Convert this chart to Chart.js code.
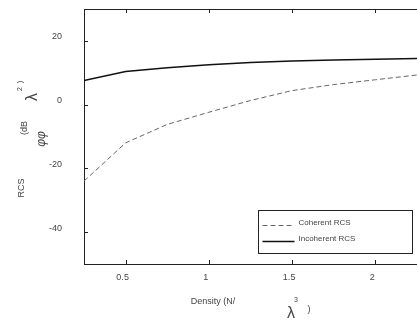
<!DOCTYPE html>
<html>
<head>
<meta charset="utf-8">
<script src="https://cdn.jsdelivr.net/npm/chart.js@4.4.1/dist/chart.umd.min.js"></script>
<style>
  html, body { margin: 0; padding: 0; background: #fff; }
  #wrap { width: 417px; height: 320px; position: relative; }
</style>
</head>
<body>
<div id="wrap"><canvas id="rcsChart"></canvas></div>
<script>
// data
const densities = [0.25, 0.5, 0.75, 1.0, 1.25, 1.5, 1.75, 2.0, 2.25];
const coherentRCS = [-24, -12, -6.2, -2.4, 1.3, 4.4, 6.3, 7.8, 9.3];
const incoherentRCS = [7.6, 10.4, 11.6, 12.5, 13.2, 13.7, 14.0, 14.2, 14.5];
const xTicks = [0.5, 1, 1.5, 2];
const yTicks = [-40, -20, 0, 20];

const FONT = '"Liberation Sans", Arial, sans-serif';
const TEXT = '#444';

const toPoints = (xs, ys) => xs.map((x, i) => ({ x: x, y: ys[i] }));

// inward ticks, frame, axis titles and legend box
const framePlugin = {
    id: 'frame',
    afterDraw(chart) {
        const ctx = chart.ctx;
        const a = chart.chartArea;
        const xs = chart.scales.x, ys = chart.scales.y;
        ctx.save();
        ctx.strokeStyle = '#222';
        ctx.lineWidth = 1;
        ctx.beginPath();
        ctx.moveTo(a.left, a.top + 0.5);
        ctx.lineTo(a.right, a.top + 0.5);
        ctx.stroke();
        ctx.beginPath();
        xTicks.forEach(v => {
            const px = Math.round(xs.getPixelForValue(v)) + 0.5;
            ctx.moveTo(px, a.bottom); ctx.lineTo(px, a.bottom - 4);
            ctx.moveTo(px, a.top); ctx.lineTo(px, a.top + 4);
        });
        yTicks.forEach(v => {
            const py = Math.round(ys.getPixelForValue(v)) + 0.5;
            ctx.moveTo(a.left, py); ctx.lineTo(a.left + 4, py);
        });
        ctx.stroke();

        // y title, pieces rotated
        ctx.fillStyle = TEXT;
        const rot = (txt, x, y, font) => {
            ctx.save();
            ctx.translate(x, y);
            ctx.rotate(-Math.PI / 2);
            ctx.font = font;
            ctx.textAlign = 'center';
            ctx.textBaseline = 'middle';
            ctx.fillText(txt, 0, 0);
            ctx.restore();
        };
        rot('RCS', 22, 188, '9px ' + FONT);
        rot('(dB', 25, 128, '9px ' + FONT);
        rot('φφ', 42, 139, 'italic 12px ' + FONT);
        rot('λ', 33, 97, '16px ' + FONT);
        rot('2', 20, 89, '7px ' + FONT);
        rot(')', 20, 82, '8px ' + FONT);

        // x title
        ctx.textAlign = 'center';
        ctx.textBaseline = 'middle';
        ctx.font = '9px ' + FONT;
        ctx.fillText('Density (N/', 213, 302);
        ctx.font = '16px ' + FONT;
        ctx.fillText('λ', 291, 314);
        ctx.font = '7px ' + FONT;
        ctx.fillText('3', 296, 300);
        ctx.font = '9px ' + FONT;
        ctx.fillText(')', 309, 310);

        // legend box
        const bx = 258.5, by = 210.5, bw = 154, bh = 43;
        ctx.strokeStyle = '#222';
        ctx.strokeRect(bx, by, bw, bh);
        chart.data.datasets.forEach((ds, i) => {
            const ly = by + 12 + i * 16;
            ctx.save();
            ctx.strokeStyle = ds.borderColor;
            ctx.lineWidth = ds.borderWidth;
            ctx.setLineDash(ds.borderDash || []);
            ctx.beginPath();
            ctx.moveTo(bx + 4, ly + 3);
            ctx.lineTo(bx + 36, ly + 3);
            ctx.stroke();
            ctx.restore();
            ctx.fillStyle = TEXT;
            ctx.font = '8px ' + FONT;
            ctx.textAlign = 'left';
            ctx.fillText(ds.label, bx + 40, ly);
        });
        ctx.restore();
    }
};

new Chart(document.getElementById('rcsChart'), {
    type: 'line',
    data: {
        datasets: [
            {
                label: 'Coherent RCS',
                data: toPoints(densities, coherentRCS),
                borderColor: '#666',
                borderWidth: 1,
                borderDash: [5, 3],
                pointRadius: 0,
                tension: 0
            },
            {
                label: 'Incoherent RCS',
                data: toPoints(densities, incoherentRCS),
                borderColor: '#111',
                borderWidth: 1.5,
                pointRadius: 0,
                tension: 0
            }
        ]
    },
    options: {
        responsive: true,
        maintainAspectRatio: false,
        animation: false,
        layout: { padding: { top: 9, right: 0, left: 0, bottom: 0 } },
        plugins: {
            legend: { display: false },
            tooltip: { enabled: false }
        },
        scales: {
            x: {
                type: 'linear',
                min: 0.25,
                max: 2.25,
                afterBuildTicks: (s) => { s.ticks = xTicks.map(v => ({ value: v })); },
                afterFit: (s) => { s.height = 56; s.paddingLeft = 0; s.paddingRight = 0; },
                grid: { display: false },
                border: { display: true, color: '#222', width: 1 },
                ticks: {
                    color: TEXT,
                    font: { family: FONT, size: 9 },
                    padding: 0,
                    labelOffset: -3,
                    maxRotation: 0,
                    callback: (v) => String(v)
                }
            },
            y: {
                type: 'linear',
                min: -50,
                max: 30,
                afterBuildTicks: (s) => { s.ticks = yTicks.map(v => ({ value: v })); },
                afterFit: (s) => { s.width = 84; s.paddingTop = 0; s.paddingBottom = 0; },
                grid: { display: false },
                border: { display: true, color: '#222', width: 1 },
                ticks: {
                    color: TEXT,
                    font: { family: FONT, size: 9 },
                    padding: 14,
                    labelOffset: -4
                }
            }
        }
    },
    plugins: [framePlugin]
});
</script>
</body>
</html>
